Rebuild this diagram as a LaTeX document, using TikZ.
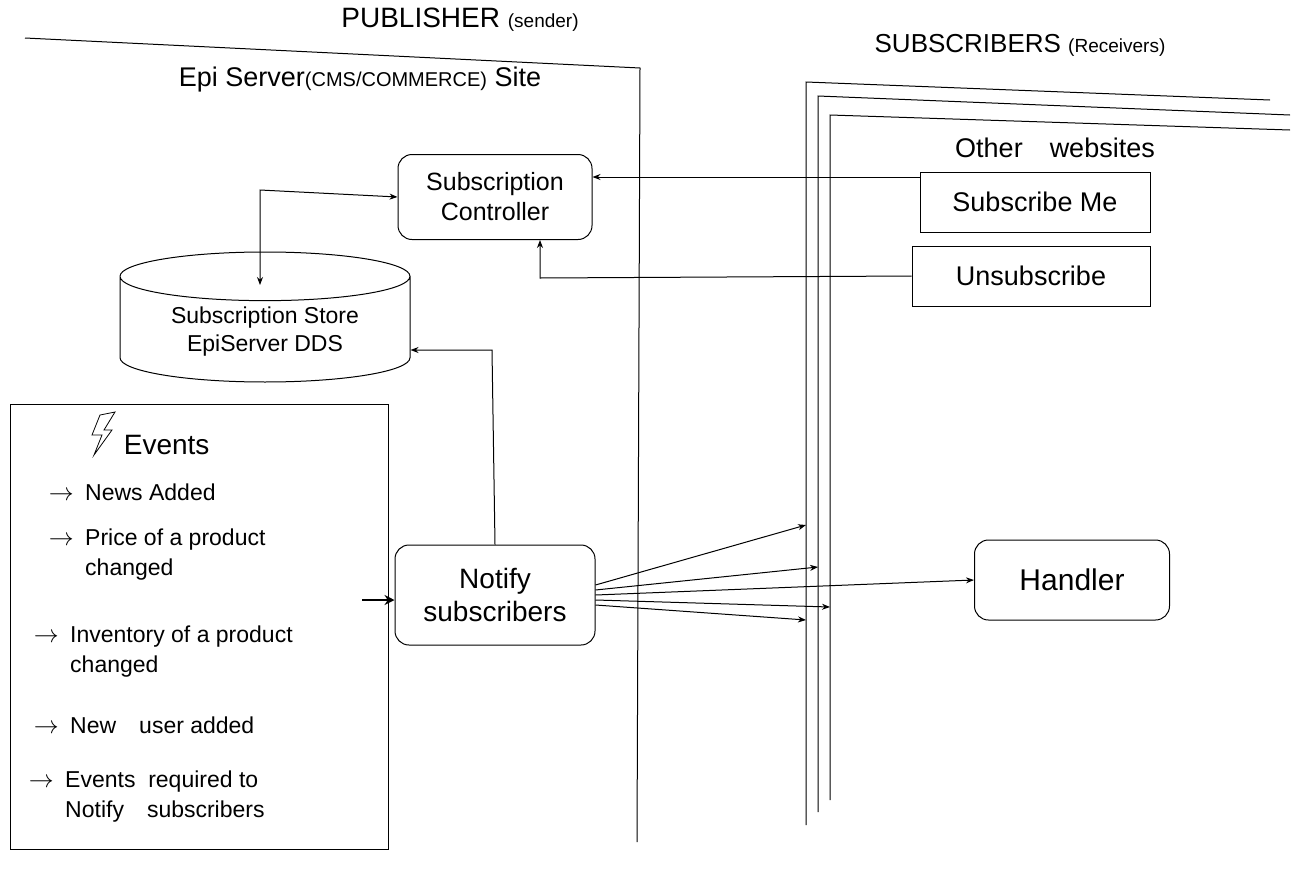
\documentclass[tikz,border=0pt]{standalone}
\usepackage{fontspec}
\setmainfont{Liberation Sans}
\usetikzlibrary{shapes.geometric,arrows.meta}
\begin{document}
\begin{tikzpicture}[x=1pt,y=-1pt,line width=1pt,
  arr/.style={-{Stealth[length=8pt,width=6pt]}},
  rbox/.style={draw,rounded corners=14pt,align=center,font=\fontsize{25}{30}\selectfont},
  sbox/.style={draw,align=center,font=\fontsize{27}{30}\selectfont},
  lbl/.style={font=\fontsize{23}{30}\selectfont,anchor=west,align=left}]
\useasboundingbox (0,0) rectangle (1304,868);
\fill[white] (0,0) rectangle (1304,868);
% publisher
\node[font=\fontsize{28}{32}\selectfont] (pt) at (460,20) {PUBLISHER {\fontsize{19}{22}\selectfont(sender)}};
\coordinate (p1) at (25,38); \coordinate (p2) at (640,68); \coordinate (p3) at (637,842);
\draw (p1) -- (p2) -- (p3);
\node[font=\fontsize{27}{30}\selectfont] (site) at (360,80) {Epi Server{\fontsize{20}{24}\selectfont(CMS/COMMERCE)} Site};
% subscribers
\node[font=\fontsize{26}{30}\selectfont] (st) at (1020,45) {SUBSCRIBERS {\fontsize{19}{22}\selectfont(Receivers)}};
\coordinate (a1) at (806,825); \coordinate (a2) at (806,82); \coordinate (a3) at (1270,100);
\coordinate (b1) at (818,812); \coordinate (b2) at (818,96); \coordinate (b3) at (1290,115);
\coordinate (c1) at (830,800); \coordinate (c2) at (830,115); \coordinate (c3) at (1290,130);
\draw (a1)--(a2)--(a3); \draw (b1)--(b2)--(b3); \draw (c1)--(c2)--(c3);
\node[font=\fontsize{27}{30}\selectfont] (ow) at (1055,148) {Other\quad websites};
\node[sbox,minimum width=230pt,minimum height=60pt] (sm) at (1035,202) {Subscribe Me};
\node[sbox,minimum width=238pt,minimum height=60pt] (us) at (1031,276) {Unsubscribe};
% controller
\node[rbox,minimum width=194pt,minimum height=85pt] (sc) at (495,197) {Subscription\\Controller};
\node[cylinder,draw,shape border rotate=90,aspect=0.25,minimum width=290pt,minimum height=130pt,align=center,font=\fontsize{23}{28}\selectfont] (ss) at (265,332) {Subscription Store\\EpiServer DDS};
% events
\node[draw,minimum width=378pt,minimum height=445pt] (ev) at (199,627) {};
\node[lbl,font=\fontsize{28}{30}\selectfont] (evt) at (120,445) {Events};
\draw[line width=0.8pt] (100,415) -- (92,435) -- (102,435) -- (94,455) -- (112,430) -- (104,430) -- (115,412) -- cycle;
\node[lbl] (e1) at (45,492) {$\rightarrow$\enspace News Added};
\node[lbl] (e2) at (45,555) {$\rightarrow$\enspace Price of a product\\\phantom{$\rightarrow$\enspace}changed};
\node[lbl] (e3) at (30,652) {$\rightarrow$\enspace Inventory of a product\\\phantom{$\rightarrow$\enspace}changed};
\node[lbl] (e4) at (30,725) {$\rightarrow$\enspace New\quad user added};
\node[lbl] (e5) at (25,797) {$\rightarrow$\enspace Events\ \ required to\\\phantom{$\rightarrow$\enspace}Notify\quad subscribers};
% notify and handler
\node[rbox,minimum width=200pt,minimum height=100pt,font=\fontsize{28}{33}\selectfont] (ns) at (495,595) {Notify\\subscribers};
\node[rbox,minimum width=195pt,minimum height=80pt,font=\fontsize{30}{34}\selectfont] (hd) at (1072,580) {Handler};
% connectors
\draw[arr] (sm.west) ++(0,-25) coordinate (smw) -- (sc.east |- smw);
\draw[arr] (us.west) -- (540,278) -- (sc.south -| 540,0);
\draw[{Stealth[length=8pt,width=6pt]}-{Stealth[length=8pt,width=6pt]}] (sc.west) -- (260,190) -- (260,285);
\draw[arr] (ns.north) -- (492,350) -- (ss.east |- 0,350);
\coordinate (evo) at (362,600);
\draw[-{Stealth[length=10pt,width=10pt]},line width=2.5pt] (evo) -- (ns.west |- 0,600);
\draw[arr] (ns.east) -- (hd.west);
\draw[arr] (ns.east) ++(0,-10) -- (806,525);
\draw[arr] (ns.east) ++(0,-5) -- (818,567);
\draw[arr] (ns.east) ++(0,5) -- (830,607);
\draw[arr] (ns.east) ++(0,10) -- (806,620);
\end{tikzpicture}
\end{document}
